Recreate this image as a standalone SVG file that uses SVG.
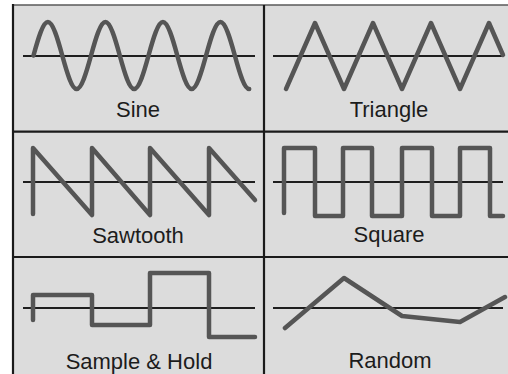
<svg xmlns="http://www.w3.org/2000/svg" width="508" height="374" viewBox="0 0 508 374">
<style>
.wave{fill:none;stroke:#555;stroke-width:4.5;stroke-linejoin:round;stroke-linecap:round}
.axis{stroke:#1e1e1e;stroke-width:2}
.grid{stroke:#1a1a1a;stroke-width:2.2}
.lbl{font-family:"Liberation Sans",Arial,sans-serif;font-size:22px;fill:#1c1c1c;text-anchor:middle}
</style>
<rect x="0" y="0" width="508" height="374" fill="#fff"/>
<rect x="13" y="5" width="495" height="369" fill="#dcdcdc"/>
<g id="frame">
<line x1="12" y1="5" x2="508" y2="5" stroke="#5a5a5a" stroke-width="1.6"/>
<line x1="13" y1="4" x2="13" y2="374" class="grid"/>
<line x1="264" y1="5" x2="264" y2="374" class="grid"/>
<line x1="13" y1="131.7" x2="508" y2="131.7" class="grid"/>
<line x1="13" y1="257" x2="508" y2="257" class="grid"/>
</g>
<g id="sine">
<line x1="23" y1="56" x2="255" y2="56" class="axis"/>
<path class="wave" d="M33.5,55.5 c4.68,-17.12 9.48,-33.5 14.38,-33.5 s9.70,16.38 14.38,33.5 s9.48,33.5 14.38,33.5 s9.70,-16.38 14.38,-33.5 s9.48,-33.5 14.38,-33.5 s9.70,16.38 14.38,33.5 s9.48,33.5 14.38,33.5 s9.70,-16.38 14.38,-33.5 s9.48,-33.5 14.38,-33.5 s9.70,16.38 14.38,33.5 s9.48,33.5 14.38,33.5 s9.70,-16.38 14.38,-33.5 s9.48,-33.5 14.38,-33.5 s9.70,16.38 14.38,33.5 s9.48,33.5 14.38,33.5"/>
<text class="lbl" x="138" y="117">Sine</text>
</g>
<g id="triangle">
<line x1="273" y1="56" x2="503" y2="56" class="axis"/>
<path class="wave" d="M286,89 L315,23 L344,89 L373,23 L402,89 L431,23 L460,89 L489,23 L503,55"/>
<text class="lbl" x="389" y="116.5">Triangle</text>
</g>
<g id="sawtooth">
<line x1="23" y1="182" x2="255" y2="182" class="axis"/>
<path class="wave" d="M33,214 V148 L92,215 V148 L150,215 V148 L209,215 V148 L255,200"/>
<text class="lbl" x="138" y="243">Sawtooth</text>
</g>
<g id="square">
<line x1="273" y1="182" x2="503" y2="182" class="axis"/>
<path class="wave" d="M284,213 V148 H315 V216 H343 V148 H372 V216 H402 V148 H432 V216 H460 V148 H490 V216 H503"/>
<text class="lbl" x="389" y="242">Square</text>
</g>
<g id="sample-hold">
<line x1="23" y1="308" x2="255" y2="308" class="axis"/>
<path class="wave" d="M33,320 V295 H92 V325 H150 V273 H209 V337 H255"/>
<text class="lbl" x="139" y="369">Sample &amp; Hold</text>
</g>
<g id="random">
<line x1="273" y1="308" x2="503" y2="308" class="axis"/>
<path class="wave" d="M285,328 L344,278 L402,316 L460,322 L505,297"/>
<text class="lbl" x="390" y="368">Random</text>
</g>
</svg>
